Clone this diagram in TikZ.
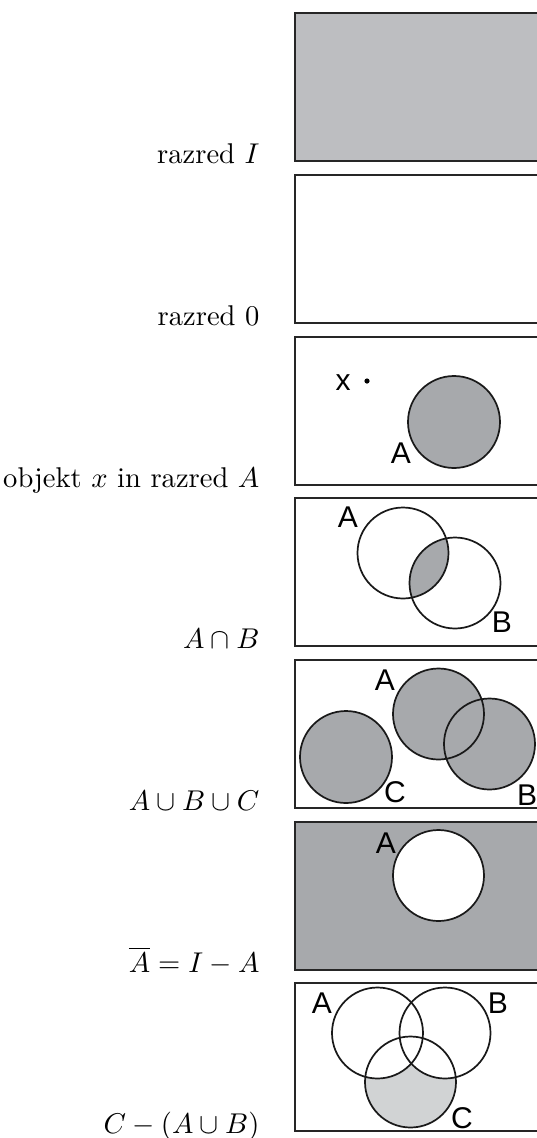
\documentclass[tikz,border=0pt]{standalone}
\usepackage{fontspec}
\newfontfamily\vennfont{Liberation Sans}
\definecolor{ClassGray}{RGB}{189,190,193}
\definecolor{SetGray}{RGB}{167,169,172}
\definecolor{RestGray}{RGB}{209,211,212}

\begin{document}
\begin{tikzpicture}[
  x=0.35pt, y=-0.35pt,
  frame/.style={draw=black!85, line width=0.75pt},
  setline/.style={draw=black!90, line width=0.6pt},
  caption/.style={anchor=base east, inner sep=0pt},
  setname/.style={font=\vennfont\fontsize{10.5}{12}\selectfont, inner sep=0pt},
]
\clip (0,0) rectangle (537,1138);

% razred I
\draw[frame, fill=ClassGray] (295,13) rectangle (545,161);
\node[caption] (capI) at (260,163) {razred $I$};

% razred 0
\draw[frame] (295,175) rectangle (545,323);
\node[caption] (capO) at (260,325) {razred 0};

% objekt x in razred A
\draw[frame] (295,337) rectangle (545,485);
\draw[setline, fill=SetGray] (454,422) circle (46);
\fill (367,381) circle (2.6);
\node[setname] (x1) at (343,383) {x};
\node[setname] (a1) at (401,453) {A};
\node[caption] (capX) at (260,487) {objekt $x$ in razred $A$};

% A cap B
\draw[frame] (295,498) rectangle (545,646);
\begin{scope}
  \clip (403,553) circle (45.5);
  \fill[SetGray] (455,583) circle (45.5);
\end{scope}
\draw[setline] (403,553) circle (45.5);
\draw[setline] (455,583) circle (45.5);
\node[setname] (a2) at (348,517) {A};
\node[setname] (b2) at (502,622) {B};
\node[caption] (capAB) at (260,648) {$A\cap B$};

% A cup B cup C
\draw[frame] (295,660) rectangle (545,808);
\fill[SetGray] (346,757) circle (46) (438.5,714) circle (45.5) (489.5,744) circle (45.5);
\draw[setline] (346,757) circle (46);
\draw[setline] (438.5,714) circle (45.5);
\draw[setline] (489.5,744) circle (45.5);
\node[setname] (a3) at (385,680) {A};
\node[setname] (b3) at (527,795) {B};
\node[setname] (c3) at (395,792) {C};
\node[caption] (capABC) at (260,810) {$A\cup B\cup C$};

% complement
\draw[frame, fill=SetGray] (295,822) rectangle (545,970);
\draw[setline, fill=white] (438.5,875.5) circle (45.5);
\node[setname] (a4) at (386,843) {A};
\node[caption] (capNot) at (260,972) {$\overline{A}=I-A$};

% C - (A cup B)
\draw[frame] (295,983) rectangle (545,1131);
\fill[RestGray] (410.5,1082) circle (45.5);
\fill[white] (377.5,1033) circle (45.5) (445,1033) circle (45.5);
\draw[setline] (377.5,1033) circle (45.5);
\draw[setline] (445,1033) circle (45.5);
\draw[setline] (410.5,1082) circle (45.5);
\node[setname] (a5) at (322,1003) {A};
\node[setname] (b5) at (498,1003) {B};
\node[setname] (c5) at (462,1118) {C};
\node[caption] (capDiff) at (260,1133) {$C-(A\cup B)$};
\end{tikzpicture}
\end{document}
